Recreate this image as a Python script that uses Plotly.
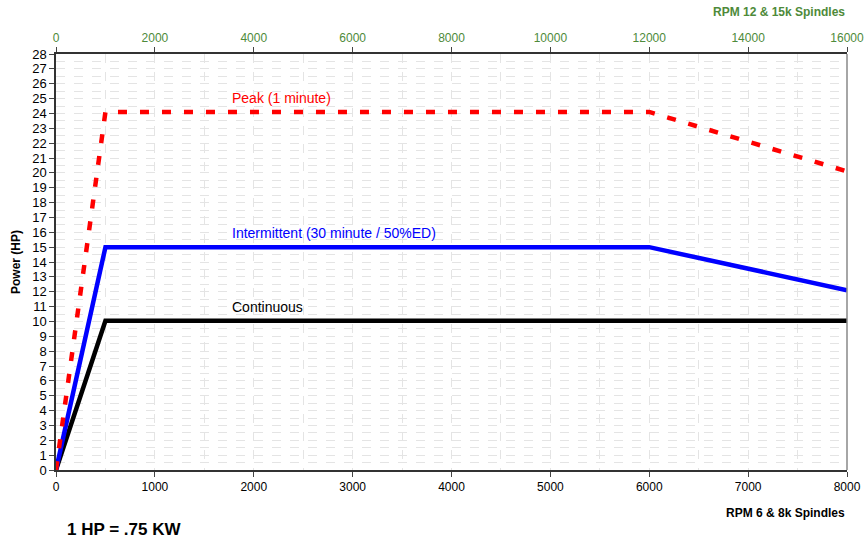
import plotly.graph_objects as go

# Data (RPM for 6 & 8k spindles, power in HP)
cont_rpm = [0, 500, 8000]
cont_hp = [0, 10.05, 10.05]
inter_rpm = [0, 500, 6000, 8000]
inter_hp = [0, 15, 15, 12.1]
peak_rpm = [0, 500, 6000, 8000]
peak_hp = [0, 24.1, 24.1, 20.1]

y_ticks = list(range(0, 29))
x_ticks = list(range(0, 8001, 1000))
x2_ticks = list(range(0, 16001, 2000))

font_family = "Liberation Sans, Arial, sans-serif"
green = "#4e8a3a"

fig = go.Figure()
fig.add_trace(go.Scatter(x=cont_rpm, y=cont_hp, mode="lines",
                         line=dict(color="black", width=4.5), showlegend=False))
fig.add_trace(go.Scatter(x=inter_rpm, y=inter_hp, mode="lines",
                         line=dict(color="#0000ff", width=4.5), showlegend=False))
fig.add_trace(go.Scatter(x=peak_rpm, y=peak_hp, mode="lines",
                         line=dict(color="#ff0000", width=4.5, dash="9px,13px"), showlegend=False))
# invisible trace to anchor the top axis
fig.add_trace(go.Scatter(x=[0, 16000], y=[0, 0], xaxis="x2", mode="lines",
                         line=dict(width=0), hoverinfo="skip", showlegend=False))

fig.add_annotation(x=1760, y=24.1, text="Peak (1 minute)", showarrow=False,
                   xanchor="left", yanchor="bottom", yshift=4,
                   font=dict(color="#ff0000", size=14, family=font_family))
fig.add_annotation(x=1760, y=15, text="Intermittent (30 minute / 50%ED)", showarrow=False,
                   xanchor="left", yanchor="bottom", yshift=4,
                   font=dict(color="#0000ff", size=14, family=font_family))
fig.add_annotation(x=1760, y=10.05, text="Continuous", showarrow=False,
                   xanchor="left", yanchor="bottom", yshift=4,
                   font=dict(color="black", size=14, family=font_family))

fig.add_annotation(x=1, y=0, xref="paper", yref="paper", text="<b>RPM 6 & 8k Spindles</b>",
                   showarrow=False, xanchor="right", yanchor="top", yshift=-34,
                   font=dict(size=12, color="black", family=font_family))
fig.add_annotation(x=1, y=1, xref="paper", yref="paper", text="<b>RPM 12 & 15k Spindles</b>",
                   showarrow=False, xanchor="right", yanchor="bottom", yshift=33,
                   font=dict(size=12, color=green, family=font_family))
fig.add_annotation(x=0.012, y=0, xref="paper", yref="paper", text="<b>1 HP = .75 KW</b>",
                   showarrow=False, xanchor="left", yanchor="top", yshift=-48,
                   font=dict(size=17, color="black", family=font_family))

# right border
fig.add_shape(type="line", xref="paper", yref="paper", x0=1, x1=1, y0=0, y1=1,
              line=dict(color="#888888", width=1.5))

grid_col = "#e4e4e4"
fig.update_layout(
    width=867, height=542,
    margin=dict(l=56, r=20, t=54, b=72, autoexpand=False),
    plot_bgcolor="white", paper_bgcolor="white",
    font=dict(family=font_family, size=12, color="black"),
    xaxis=dict(range=[0, 8000], tickvals=x_ticks, ticks="outside", ticklen=5,
               showline=True, linecolor="#333333", linewidth=1.5,
               showgrid=True, gridcolor=grid_col, griddash="dash", gridwidth=1,
               minor=dict(dtick=500, showgrid=True, gridcolor=grid_col, griddash="dash"),
               zeroline=False, tickfont=dict(size=12), automargin=False,
               ticklabeloverflow="allow"),
    xaxis2=dict(range=[0, 16000], tickvals=x2_ticks, tickformat="d", overlaying="x", side="top",
                ticks="outside", ticklen=5, showline=True, linecolor="#333333", linewidth=1.5,
                showgrid=False, zeroline=False, tickfont=dict(size=12, color=green),
                automargin=False, ticklabeloverflow="allow"),
    yaxis=dict(range=[0, 28], tickvals=y_ticks, ticks="outside", ticklen=5,
               showline=True, linecolor="#333333", linewidth=1.5,
               showgrid=True, gridcolor=grid_col, griddash="dash",
               minor=dict(dtick=0.5, showgrid=True, gridcolor=grid_col, griddash="dash"),
               zeroline=False, tickfont=dict(size=13), automargin=False,
               title=dict(text="<b>Power (HP)</b>", font=dict(size=12), standoff=9)),
)

fig.write_html("out.html", config={"displayModeBar": False},
               post_script="document.body.style.margin='0';")
